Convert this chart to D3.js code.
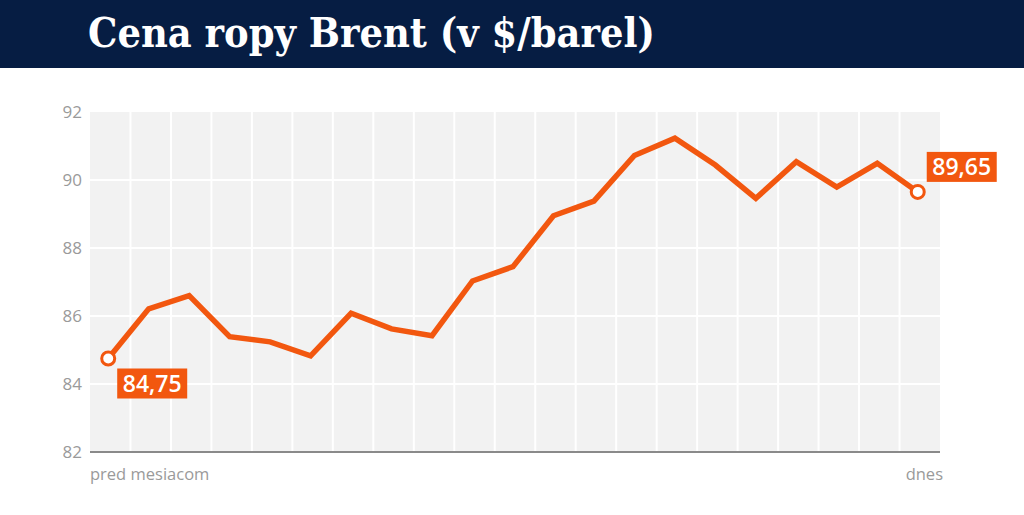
<!DOCTYPE html>
<html>
<head>
<meta charset="utf-8">
<script src="https://cdn.jsdelivr.net/npm/d3@7"></script>
<style>
  body { margin: 0; background: #fff; }
  svg { display: block; }
</style>
</head>
<body>
<svg></svg>
<script>
// Brent price over the last month, one value per trading day
const days = d3.range(21);
const prices = [84.75, 86.21, 86.6, 85.39, 85.24, 84.83, 86.08, 85.62, 85.42, 87.03,
  87.45, 88.95, 89.38, 90.72, 91.23, 90.44, 89.46, 90.54, 89.79, 90.49, 89.65];
const yTicks = [82, 84, 86, 88, 90, 92];
const xLabels = ["pred mesiacom", "dnes"];
const title = "Cena ropy Brent (v $/barel)";

const width = 1024, height = 515;
const margin = { top: 112, right: 84, bottom: 63, left: 90 };
const orange = "#f2570f";
const sans = "'Open Sans', Lato, sans-serif";

const svg = d3.select("svg").attr("width", width).attr("height", height);

// header band
svg.append("rect").attr("width", width).attr("height", 68).attr("fill", "#061d43");
svg.append("text")
  .attr("x", 88).attr("y", 47)
  .attr("fill", "#fff")
  .attr("textLength", 567)
  .attr("lengthAdjust", "spacingAndGlyphs")
  .style("font", "bold 41px 'DejaVu Serif', serif")
  .text(title);

const x = d3.scaleBand()
  .domain(days)
  .range([margin.left, width - margin.right]);

const y = d3.scaleLinear()
  .domain([82, 92])
  .range([height - margin.bottom, margin.top]);

// points sit a bit left of the column centre in the original
const cx = (i) => x(i) + x.bandwidth() * 0.45;

// plot background
svg.append("rect")
  .attr("x", margin.left).attr("y", y(92))
  .attr("width", x.range()[1] - margin.left)
  .attr("height", y(82) - y(92))
  .attr("fill", "#f2f2f2");

// grid
svg.append("g")
  .attr("stroke", "#fff").attr("stroke-width", 2)
  .selectAll("line")
  .data(days.slice(1))
  .join("line")
  .attr("x1", (d) => x(d)).attr("x2", (d) => x(d))
  .attr("y1", y(92)).attr("y2", y(82));

svg.append("g")
  .attr("stroke", "#fff").attr("stroke-width", 2)
  .selectAll("line")
  .data(yTicks.slice(1, -1))
  .join("line")
  .attr("x1", margin.left).attr("x2", x.range()[1])
  .attr("y1", (d) => y(d)).attr("y2", (d) => y(d));

// y axis labels
const yAxis = svg.append("g")
  .attr("transform", `translate(${margin.left},0)`)
  .call(d3.axisLeft(y).tickValues(yTicks).tickSize(0).tickPadding(8));
yAxis.select(".domain").remove();
yAxis.selectAll("text")
  .attr("fill", "#9a9a9a")
  .style("font", `17px ${sans}`);

// baseline
svg.append("line")
  .attr("x1", margin.left).attr("x2", x.range()[1])
  .attr("y1", y(82)).attr("y2", y(82))
  .attr("stroke", "#8a8a8a").attr("stroke-width", 2);

// x labels
svg.append("text")
  .attr("x", margin.left).attr("y", y(82) + 28)
  .attr("fill", "#9a9a9a")
  .style("font", `16.5px ${sans}`)
  .text(xLabels[0]);
svg.append("text")
  .attr("x", x.range()[1] + 3).attr("y", y(82) + 28)
  .attr("text-anchor", "end")
  .attr("fill", "#9a9a9a")
  .style("font", `16.5px ${sans}`)
  .text(xLabels[1]);

// the line
const line = d3.line()
  .x((d, i) => cx(i))
  .y((d) => y(d));

svg.append("path")
  .datum(prices)
  .attr("fill", "none")
  .attr("stroke", orange)
  .attr("stroke-width", 5.5)
  .attr("stroke-linejoin", "miter")
  .attr("d", line);

// end markers + value boxes
const last = prices.length - 1;
const ends = [
  { i: 0, dx: 9, dy: 10 },
  { i: last, dx: 9, dy: -40 },
];
const fmt = (v) => v.toFixed(2).replace(".", ",");

const marks = svg.append("g").selectAll("g")
  .data(ends)
  .join("g");

marks.append("circle")
  .attr("cx", (d) => cx(d.i))
  .attr("cy", (d) => y(prices[d.i]))
  .attr("r", 6.5)
  .attr("fill", "#fff")
  .attr("stroke", orange)
  .attr("stroke-width", 3);

marks.append("rect")
  .attr("x", (d) => cx(d.i) + d.dx)
  .attr("y", (d) => y(prices[d.i]) + d.dy)
  .attr("width", 70)
  .attr("height", 30)
  .attr("fill", orange);

marks.append("text")
  .attr("x", (d) => cx(d.i) + d.dx + 35)
  .attr("y", (d) => y(prices[d.i]) + d.dy + 23)
  .attr("text-anchor", "middle")
  .attr("fill", "#fff")
  .style("font", `600 23px ${sans}`)
  .text((d) => fmt(prices[d.i]));
</script>
</body>
</html>
